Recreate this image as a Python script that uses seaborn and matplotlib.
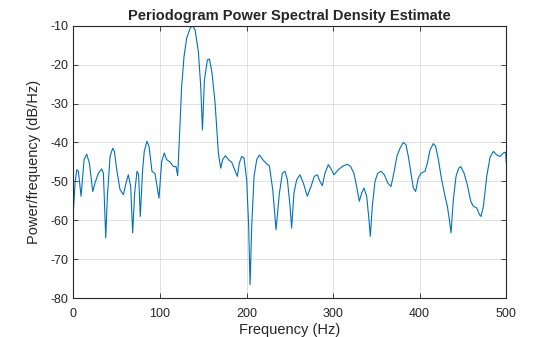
import matplotlib
matplotlib.use("Agg")
import matplotlib.pyplot as plt
import seaborn as sns
import pandas as pd

freq_hz = [0, 2.0, 3.9, 5.8, 8.9, 12.4, 15.4, 18.5, 22.4, 25.0, 28.9, 32.7, 34.7, 37.4, 39.3,
           42.4, 45.4, 47.4, 50.1, 53.9, 57.8, 60.8, 63.5, 66.2, 68.5, 70.8, 73.5, 75.4, 77.3,
           80.0, 81.9, 85.0, 87.4, 90.8, 94.3, 98.9, 102.0, 105.0, 107.8, 111.6, 115.5, 118.6,
           120.5, 122.4, 125.1, 127.8, 130.9, 134.8, 137.5, 140.6, 144.4, 147.1, 149.1, 151.4,
           154.8, 157.2, 160.2, 163.7, 167.5, 170.2, 172.5, 175.6, 179.1, 182.9, 185.6, 189.4,
           191.7, 194.4, 197.1, 200.2, 202.5, 204.1, 206.0, 208.7, 211.8, 214.9, 218.7, 223.3,
           226.4, 230.3, 234.1, 238.0, 241.4, 244.5, 247.2, 250.3, 252.1, 254.8, 257.9, 261.7,
           265.6, 270.2, 274.5, 278.3, 281.8, 284.9, 287.6, 290.6, 294.5, 297.2, 301.0, 306.0,
           311.8, 316.8, 320.3, 324.1, 327.2, 330.3, 333.0, 335.7, 338.8, 341.1, 343.0, 345.3,
           348.4, 351.5, 355.3, 359.2, 363.1, 366.9, 370.5, 373.8, 377.3, 381.1, 384.2, 386.9,
           390.0, 392.7, 395.4, 398.4, 401.5, 406.2, 408.9, 412.0, 415.8, 418.5, 421.6, 425.4,
           429.3, 432.0, 434.3, 436.2, 438.9, 442.0, 445.1, 447.4, 451.3, 455.1, 459.0, 462.0,
           465.9, 469.0, 470.9, 473.6, 477.5, 481.3, 485.2, 489.0, 492.9, 496.7, 499.4, 500.0]

psd_db = [-57.7, -50.4, -47.0, -47.4, -53.8, -44.4, -43.0, -45.3, -52.6, -50.4, -47.9, -46.8, -47.9, -64.5, -53.8,
          -43.6, -41.5, -42.3, -47.0, -52.1, -53.4, -50.4, -48.3, -51.3, -63.2, -53.0, -47.4, -48.3, -59.0,
          -47.0, -42.3, -39.7, -41.0, -47.4, -48.0, -54.3, -44.9, -42.7, -44.4, -45.0, -46.2, -46.2,
          -48.5, -39.3, -25.6, -18.0, -13.2, -10.7, -10.0, -11.1, -16.7, -25.6, -36.8, -23.9,
          -18.8, -18.6, -22.2, -29.9, -42.7, -46.6, -44.4, -43.4, -44.4, -45.1, -46.6, -48.7,
          -45.3, -43.6, -44.0, -49.6, -61.5, -76.5, -61.5, -48.7, -44.4, -43.2, -44.4, -45.5,
          -46.0, -52.1, -62.4, -53.0, -47.9, -47.4, -49.6, -56.4, -62.0, -53.0, -49.6, -48.3,
          -50.4, -53.8, -51.3, -48.7, -48.3, -50.0, -51.1, -47.9, -45.7, -46.6, -48.3, -47.0,
          -46.0, -45.6, -46.2, -47.9, -51.3, -55.1, -53.0, -51.7, -53.8, -59.0, -64.1, -56.4,
          -50.0, -47.9, -47.4, -48.3, -50.4, -51.3, -47.5, -43.5, -41.5, -40.0, -40.6, -43.6,
          -47.9, -51.7, -52.6, -49.1, -47.9, -47.4, -45.3, -41.9, -40.3, -41.0, -44.4, -49.6,
          -53.8, -56.4, -59.8, -63.2, -54.7, -48.7, -46.6, -46.2, -47.9, -50.9, -55.1, -56.4,
          -56.8, -58.5, -59.0, -56.4, -48.7, -43.8, -42.3, -43.2, -43.6, -42.7, -42.5, -45.3]

x_ticks = [0, 100, 200, 300, 400, 500]
y_ticks = [-80, -70, -60, -50, -40, -30, -20, -10]

title = "Periodogram Power Spectral Density Estimate"
xlabel = "Frequency (Hz)"
ylabel = "Power/frequency (dB/Hz)"

sns.set_theme(style="white")
plt.rcParams['font.family'] = ['Liberation Sans', 'DejaVu Sans']

df = pd.DataFrame({"freq": freq_hz, "psd": psd_db})

fig = plt.figure(figsize=(5.6, 3.37), dpi=100)
ax = fig.add_axes([0.131, 0.115, 0.773, 0.809])

sns.lineplot(data=df, x="freq", y="psd", ax=ax, color="#0072BD", linewidth=0.8,
             estimator=None, sort=False)

ax.set_xlim(0, 500)
ax.set_ylim(-80, -10)
ax.set_xticks(x_ticks)
ax.set_yticks(y_ticks)
ax.set_xticklabels([str(v) for v in x_ticks])
ax.set_yticklabels([str(v) for v in y_ticks])

dark = "#262626"
ax.grid(True, color="#dcdcdc", linewidth=0.6)
ax.set_axisbelow(True)
for s in ax.spines.values():
    s.set_visible(True)
    s.set_color(dark)
    s.set_linewidth(0.8)
ax.tick_params(axis="both", which="both", direction="in", length=3.5, width=0.6,
               colors=dark, labelsize=9, top=True, right=True, bottom=True, left=True)
ax.tick_params(axis="x", pad=7)
ax.tick_params(axis="y", pad=3.5)

ax.set_xlabel(xlabel, fontsize=10.5, color=dark, labelpad=2)
ax.set_ylabel(ylabel, fontsize=10.5, color=dark, labelpad=7)
ax.set_title(title, fontsize=10.5, fontweight="bold", color=dark, pad=4)

fig.savefig("out.png", dpi=100)
